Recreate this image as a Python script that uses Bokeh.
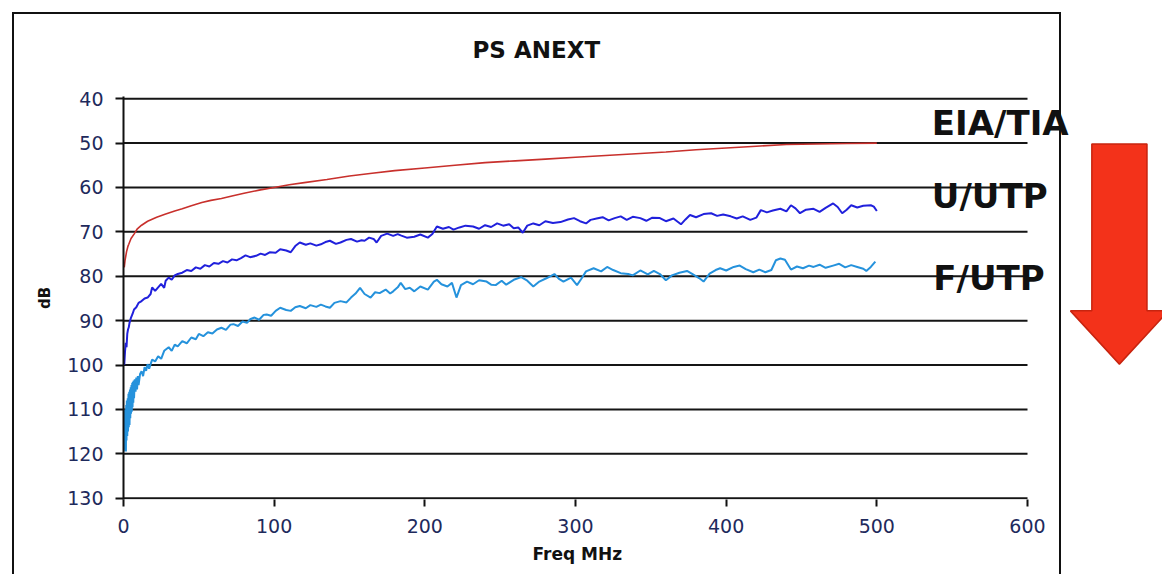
from bokeh.plotting import figure
from bokeh.models import Range1d, FixedTicker, Title
from bokeh.core.properties import value
from bokeh.embed import file_html
from bokeh.resources import INLINE

# ---------------- data ----------------
x_ticks = [0, 100, 200, 300, 400, 500, 600]
y_ticks = [40, 50, 60, 70, 80, 90, 100, 110, 120, 130]

eia_f = [0.5, 1, 2, 3, 3.5, 5, 7, 9, 12, 16, 22, 28, 34, 39, 45, 52, 58, 65, 72, 80, 90,
         100, 110, 120, 135, 150, 165, 180, 200, 220, 240, 260, 280, 300, 320, 340, 360,
         380, 400, 420, 440, 460, 480, 500]
eia_db = [78, 76.5, 74.5, 73.2, 72.8, 71.5, 70.5, 69.4, 68.5, 67.6, 66.7, 66, 65.3, 64.8,
          64.1, 63.4, 62.9, 62.5, 61.9, 61.3, 60.6, 60, 59.4, 58.9, 58.2, 57.4, 56.8, 56.2,
          55.6, 55.0, 54.4, 54.0, 53.6, 53.2, 52.8, 52.4, 52.0, 51.5, 51.1, 50.7, 50.3,
          50.2, 50.1, 50.0]

utp_f = [0.5, 1, 1.5, 2, 2.5, 3, 3.5, 4, 5, 6, 7, 8.5, 10, 12, 14, 16, 18, 19, 21, 23, 25,
         27, 28, 30, 32, 34, 36, 39, 42, 45, 48, 51, 54, 57, 60, 63, 66, 69, 72, 75, 78, 81,
         84, 88, 91, 94, 97, 101, 104, 108, 111, 114, 117, 121, 124, 128, 131, 134, 137,
         141, 144, 148, 151, 155, 158, 160, 163, 166, 168, 171, 175, 179, 182, 184, 188,
         193, 197, 202, 205, 208, 212, 216, 219, 223, 227, 232, 236, 240, 244, 248, 252,
         256, 259, 262, 265, 268, 272, 276, 280, 285, 290, 295, 299, 303, 307, 310, 314,
         318, 322, 326, 330, 334, 338, 343, 347, 351, 356, 360, 365, 370, 373, 376, 380,
         385, 390, 394, 398, 403, 407, 411, 416, 420, 423, 427, 431, 436, 440, 443, 446,
         449, 453, 458, 462, 466, 471, 474, 477, 480, 483, 487, 491, 496, 498, 500]
utp_db = [100, 97, 95, 96, 93, 92, 91.5, 90.5, 89.3, 88.5, 87.5, 87, 86, 85.6, 85, 84.8,
          84, 82.5, 83.3, 82.5, 81.7, 82.6, 81, 80.3, 80.8, 79.8, 79.5, 79.2, 78.6, 78.8,
          78, 78.3, 77.5, 77.8, 77, 77.2, 76.6, 76.9, 76.2, 76.4, 75.9, 75.3, 75.7, 75.4,
          74.9, 75.2, 74.6, 74.7, 73.9, 74.2, 74.6, 73.2, 72.4, 72.9, 72.6, 73.1, 72.8,
          72.3, 72.0, 72.7, 72.4, 71.8, 71.6, 72.2, 71.9, 72, 71.3, 71.6, 72.4, 70.9, 70.4,
          70.9, 70.5, 70.8, 71.3, 71.1, 70.6, 71.3, 70.5, 68.8, 69.3, 68.9, 69.5, 69.0,
          68.6, 68.8, 69.3, 68.5, 68.9, 68.1, 68.6, 68.3, 69.2, 69.0, 70.2, 68.6, 68.1,
          68.5, 67.6, 68.0, 67.8, 67.2, 66.9, 67.6, 68.1, 67.3, 67.0, 66.7, 67.4, 66.9,
          66.5, 67.3, 66.6, 66.9, 67.5, 66.8, 66.9, 67.6, 67.0, 68.3, 67.2, 66.2, 66.7,
          66.0, 65.8, 66.4, 66.1, 66.5, 67.0, 66.5, 67.3, 66.8, 65.1, 65.6, 65.2, 64.8,
          65.4, 64.0, 64.7, 65.8, 65.0, 64.8, 65.5, 64.6, 63.6, 64.4, 65.8, 65.0, 64.0,
          64.5, 64.1, 64.0, 64.3, 65.3]

ftp_f = [0.2, 0.5, 0.8, 1.0, 1.2, 1.4, 1.6, 1.8, 2, 2.2, 2.5, 2.8, 3, 3.3, 3.5, 3.8, 4,
         4.3, 4.5, 4.8, 5, 5.3, 5.5, 5.8, 6, 6.3, 6.5, 6.8, 7, 7.5, 8, 8.5, 9, 9.5, 10, 11,
         12, 13, 14, 15, 16, 17, 19, 21, 23, 25, 27, 30, 32, 34, 36, 39, 42, 45, 48, 50, 53,
         56, 59, 62, 65, 68, 71, 73, 76, 79, 82, 84, 87, 90, 93, 95, 98, 101, 104, 108,
         111, 114, 117, 121, 124, 128, 131, 134, 137, 140, 144, 148, 151, 154, 157, 160,
         164, 167, 170, 174, 177, 179, 182, 184, 187, 190, 193, 197, 202, 206, 208, 211,
         215, 218, 221, 224, 228, 232, 236, 241, 244, 247, 251, 254, 259, 264, 268, 272,
         276, 281, 286, 289, 292, 297, 301, 304, 307, 312, 317, 321, 325, 330, 335, 338,
         343, 348, 352, 356, 360, 364, 369, 374, 378, 382, 385, 389, 393, 396, 400, 405,
         409, 413, 418, 422, 426, 430, 433, 436, 439, 443, 447, 451, 455, 458, 462, 466,
         471, 475, 479, 483, 487, 491, 493, 496, 499]
ftp_db = [119.5, 112, 119, 110, 118.5, 111, 119.5, 109, 117, 108, 116, 107.5, 115, 106.5,
          114, 106, 113.5, 105.5, 112, 105, 111, 104.5, 110.5, 104, 109.5, 103.8, 108.5,
          103.5, 107.5, 103.2, 106, 102.8, 105.5, 102.5, 104.5, 102, 101.4, 102.5, 100.5,
          101.3, 99.8, 100.8, 98.8, 99.2, 98, 98.6, 96.8, 96, 96.8, 95.4, 95.8, 94.6, 95.1,
          93.8, 94.2, 93, 93.5, 92.6, 92.9, 92, 91.6, 92.1, 90.9, 90.8, 91.2, 90.2, 90.5,
          89.7, 89.3, 89.8, 88.7, 88.6, 88.9,
          87.8, 87.1, 87.6, 87.8, 87.0, 86.7, 87.2, 86.5, 86.9, 86.4, 86.8, 87.1, 86.0,
          85.6, 85.9, 84.8, 83.9, 82.6, 84.0, 84.8, 83.6, 83.8, 83.0, 83.9, 83.4, 82.5,
          81.5, 82.9, 82.6, 83.4, 82.3, 83.0, 81.2, 80.8, 81.8, 82.3, 81.5, 84.8, 82.0,
          81.2, 81.8, 80.9, 81.2, 81.9, 82.0, 81.0, 81.9, 80.8, 80.2, 81.0, 82.3, 81.2,
          80.4, 79.5, 80.6, 81.2, 80.3, 82.0, 80.5, 78.9, 78.2, 78.9, 77.9, 78.6, 79.3,
          79.5, 79.8, 78.7, 79.6, 78.8, 79.5, 80.9, 79.8, 79.2, 78.8, 79.6, 80.4, 81.2,
          79.4, 78.6, 78.2, 78.7, 77.9, 77.6, 78.4, 79.1, 78.5, 79.1, 78.6, 76.4, 76.0,
          76.3, 78.5, 77.8, 78.2, 77.6, 77.9, 77.4, 78.1, 77.6, 77.2, 78.0, 77.5, 77.9,
          78.3, 78.8, 77.9, 76.7]

series_names = ["EIA/TIA", "U/UTP", "F/UTP"]
series_colors = ["#c8302c", "#2020dc", "#2592dc"]

# ---------------- layout constants ----------------
W, H = 1162, 574
X_END = 689.6
Y_BOTTOM, Y_TOP = 130.3, 39.5
TICK_FONT = "DejaVu Sans"
TICK_COLOR = "#1e2a5c"

p = figure(width=W, height=H, output_backend="svg", toolbar_location=None,
           x_range=Range1d(0, X_END), y_range=Range1d(Y_BOTTOM, Y_TOP),
           min_border_left=123, min_border_right=0, min_border_top=96,
           min_border_bottom=75)
p.background_fill_color = None
p.border_fill_color = None
p.outline_line_color = None
p.grid.visible = False

# outer frame box drawn as CSS background behind the transparent canvas
p.styles = {
    "background-color": "white",
    "background-image": "linear-gradient(#111,#111), linear-gradient(#111,#111), "
                        "linear-gradient(#111,#111)",
    "background-position": "12px 12px, 12px 12px, 1059px 12px",
    "background-size": "1049px 2px, 2px 700px, 2px 700px",
    "background-repeat": "no-repeat",
}

# title
p.title.text = "PS ANEXT"
p.title.text_font = "DejaVu Sans"
p.title.text_font_size = "23px"
p.title.text_font_style = "bold"
p.title.text_color = "#111111"
p.title.align = "left"
p.title.offset = 349
p.title.standoff = 67

# axes
p.xaxis.ticker = FixedTicker(ticks=x_ticks)
p.yaxis.ticker = FixedTicker(ticks=y_ticks)
p.xaxis.axis_line_color = None
p.xaxis.major_tick_out = 7
p.xaxis.major_tick_in = 0
p.xaxis.major_tick_line_width = 2
p.xaxis.major_tick_line_color = "#111111"
p.xaxis.minor_tick_line_color = None
p.xaxis.major_label_standoff = 12
p.yaxis.axis_line_width = 2
p.yaxis.axis_line_color = "#111111"
p.yaxis.major_tick_out = 8
p.yaxis.major_tick_in = 0
p.yaxis.major_tick_line_width = 2
p.yaxis.major_tick_line_color = "#111111"
p.yaxis.minor_tick_line_color = None
p.yaxis.major_label_standoff = 12
for ax in (p.xaxis, p.yaxis):
    ax.major_label_text_font = TICK_FONT
    ax.major_label_text_font_size = "19px"
    ax.major_label_text_color = TICK_COLOR
p.yaxis.axis_label = "dB"
p.yaxis.axis_label_text_font = "DejaVu Sans"
p.yaxis.axis_label_text_font_size = "15px"
p.yaxis.axis_label_text_font_style = "bold"
p.yaxis.axis_label_text_color = "#111111"
p.yaxis.axis_label_standoff = 10

# x axis label as a title in the lower panel (so it can sit off-centre)
p.add_layout(Title(text="Freq MHz", text_font="DejaVu Sans", text_font_size="17px",
                   text_font_style="bold", text_color="#111111", align="left",
                   offset=409, standoff=12), "below")

# horizontal gridlines (0..600 only)
p.segment(x0=[x_ticks[0]] * len(y_ticks), x1=[x_ticks[-1]] * len(y_ticks),
          y0=y_ticks, y1=y_ticks, line_color="#151515", line_width=2)

# curves
p.line(ftp_f, ftp_db, line_color=series_colors[2], line_width=2)
p.line(utp_f, utp_db, line_color=series_colors[1], line_width=2)
p.line(eia_f, eia_db, line_color=series_colors[0], line_width=1.6)

# series labels
label_x = [536.5, 536.5, 537.5]
label_y = [45.4, 61.9, 80.4]
p.text(x=label_x, y=label_y, text=series_names, text_font=value("DejaVu Sans"),
       text_font_size="34px", text_font_style="bold", text_color="#111111",
       text_baseline="alphabetic", text_align="left")

# red arrow (decoration)
cx = 661.0
shaft_hw, head_hw = 18.3, 32.5
top_y, base_y, tip_y = 50.2, 87.8, 99.8
arrow_x = [cx - shaft_hw, cx + shaft_hw, cx + shaft_hw, cx + head_hw, cx,
           cx - head_hw, cx - shaft_hw]
arrow_y = [top_y, top_y, base_y, base_y, tip_y, base_y, base_y]
p.patch(arrow_x, arrow_y, fill_color="#f3321a", line_color="#c8240f", line_width=1.5)

open("out.html", "w").write(file_html(p, INLINE))
